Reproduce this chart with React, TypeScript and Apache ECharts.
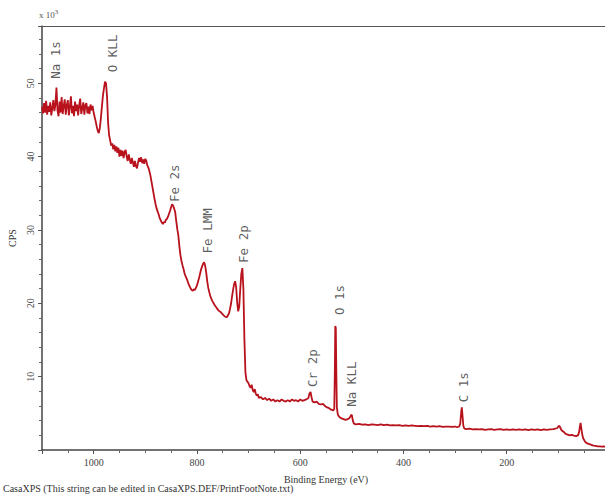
import React, { useEffect, useRef } from "react";
import * as echarts from "echarts";

// Binding energy (eV) and counts (x10^3 CPS)
const energy: number[] = [
  1100, 1098, 1096, 1094, 1092, 1090, 1088, 1086, 1084, 1082, 1080, 1078, 1076, 1074, 1072, 1070,
  1068, 1066, 1064, 1062, 1060, 1058, 1056, 1054, 1052, 1050, 1048, 1046, 1044, 1042, 1040, 1038,
  1036, 1034, 1032, 1030, 1028, 1026, 1024, 1022, 1020, 1018, 1016, 1014, 1012, 1010, 1008, 1006,
  1004, 1002, 1000, 998, 996, 994, 992, 990, 988, 986, 984, 982, 980, 978, 976, 974, 972, 970,
  968, 966, 964, 962, 960, 958, 956, 954, 952, 950, 948, 946, 944, 942, 940, 938, 936, 934,
  932, 930, 928, 926, 924, 922, 920, 918, 916, 914, 912, 910, 908, 906, 904, 902, 900, 898,
  896, 894, 892, 890, 888, 886, 884, 882, 880, 878, 876, 874, 872, 870, 868, 866, 864, 862,
  860, 858, 856, 854, 852, 850, 848, 846, 844, 842, 840, 838, 836, 834, 832, 830, 828, 826,
  824, 822, 820, 818, 816, 814, 812, 810, 808, 806, 804, 802, 800, 798, 796, 794, 792, 790,
  788, 786, 784, 782, 780, 778, 776, 774, 772, 770, 766, 762, 758, 754, 750, 746, 742, 738,
  736, 734, 732, 730, 728, 726, 724, 722, 720, 718, 716, 714, 712, 710, 708, 706, 704, 702,
  700, 698, 696, 694, 692, 690, 688, 686, 684, 682, 680, 676, 672, 668, 664, 660, 656, 652,
  648, 644, 640, 636, 632, 628, 624, 620, 616, 612, 608, 604, 600, 596, 592, 588, 584, 582,
  580, 578, 576, 572, 568, 564, 560, 556, 552, 548, 544, 540, 536, 534, 533, 532, 531, 530,
  529, 527, 524, 520, 516, 512, 508, 504, 502, 500, 498, 496, 492, 486, 480, 474, 468, 462,
  456, 450, 444, 438, 432, 426, 420, 414, 408, 402, 396, 390, 384, 378, 372, 366, 360, 354,
  348, 342, 336, 330, 324, 318, 312, 306, 300, 296, 292, 290, 288, 287, 286, 284, 282, 278,
  272, 266, 260, 254, 248, 242, 236, 230, 224, 218, 212, 206, 200, 194, 188, 182, 176, 170,
  164, 158, 152, 146, 140, 134, 128, 122, 116, 110, 106, 102, 100, 98, 96, 94, 90, 86,
  82, 78, 74, 70, 66, 62, 60, 58, 57, 56, 54, 52, 48, 44, 40, 36, 32, 28,
  24, 20, 16, 12, 8, 4,
];

const cps: number[] = [
  46.8, 45.9, 47.3, 46.0, 47.6, 45.7, 46.9, 46.1, 47.4, 45.6, 46.6, 47.7, 46.2, 47.1, 49.4, 46.3,
  45.5, 47.5, 46.0, 48.1, 45.8, 46.9, 47.8, 45.7, 47.0, 47.7, 45.6, 46.8, 48.2, 45.9, 46.9, 45.5,
  47.5, 46.2, 47.1, 45.6, 47.0, 47.9, 45.8, 46.6, 47.4, 45.7, 47.0, 47.3, 45.9, 46.8, 45.8, 47.1,
  46.3, 46.9, 46.0, 45.4, 44.8, 44.1, 43.5, 43.2, 43.9, 45.2, 46.8, 48.3, 49.3, 50.2, 50.0, 48.1, 44.6, 42.9,
  42.2, 41.5, 41.8, 41.0, 41.6, 40.7, 41.4, 40.5, 41.2, 40.0, 40.9, 40.1, 40.8, 39.8, 40.6, 40.9, 40.0, 39.4,
  40.3, 39.6, 39.0, 39.8, 39.2, 38.6, 39.4, 38.7, 38.4, 39.2, 39.8, 39.3, 39.9, 39.1, 39.6, 39.0, 39.7, 39.4,
  38.8, 38.5, 38.0, 37.4, 36.6, 35.8, 35.0, 34.2, 33.5, 32.9, 32.5, 32.1, 31.6, 31.3, 31.0, 30.8, 31.1, 31.0,
  31.4, 31.5, 31.8, 32.2, 32.6, 33.1, 33.5, 33.3, 32.9, 32.4, 31.2, 30.1, 29.3, 27.8, 26.6, 25.8, 25.2, 24.7,
  24.1, 23.7, 23.4, 23.0, 22.6, 22.3, 22.0, 21.8, 21.7, 21.9, 21.8, 22.1, 22.4, 22.9, 23.4, 24.0, 24.6, 25.0,
  25.4, 25.6, 25.1, 24.2, 23.0, 22.1, 21.5, 21.0, 20.6, 20.3, 19.8, 19.4, 19.0, 18.8, 18.5, 18.2, 18.1, 18.6,
  19.2, 19.9, 20.9, 21.8, 22.6, 23.0, 22.2, 20.1, 18.9, 19.6, 22.0, 24.0, 24.8, 22.0, 15.0, 10.5, 9.5, 9.3,
  9.1, 8.7, 8.5, 8.9, 8.2, 7.9, 8.3, 7.7, 7.4, 7.6, 7.1, 7.2, 6.9, 7.1, 6.8, 7.0, 6.7, 6.9,
  6.6, 6.8, 6.6, 6.9, 6.7, 6.6, 6.8, 6.6, 6.9, 6.7, 6.8, 6.6, 6.9, 6.7, 6.8, 6.9, 7.1, 7.7,
  7.9, 7.2, 6.6, 6.5, 6.6, 6.3, 6.2, 6.3, 6.0, 5.8, 5.7, 5.5, 5.4, 5.6, 10.0, 16.9, 16.6, 10.5,
  5.8, 4.8, 4.5, 4.3, 4.2, 4.1, 4.2, 4.4, 4.7, 4.8, 4.0, 3.6, 3.5, 3.55, 3.45, 3.5, 3.4, 3.5,
  3.45, 3.4, 3.5, 3.4, 3.45, 3.35, 3.4, 3.35, 3.4, 3.3, 3.35, 3.3, 3.35, 3.3, 3.25, 3.3, 3.25, 3.3,
  3.2, 3.25, 3.2, 3.25, 3.15, 3.2, 3.2, 3.15, 3.2, 3.1, 3.2, 3.6, 5.3, 5.8, 5.0, 3.3, 2.9, 2.85,
  2.9, 2.8, 2.85, 2.8, 2.85, 2.75, 2.8, 2.85, 2.75, 2.8, 2.85, 2.75, 2.8, 2.75, 2.8, 2.75, 2.8, 2.75,
  2.8, 2.7, 2.8, 2.75, 2.8, 2.7, 2.8, 2.75, 2.8, 2.85, 2.9, 3.0, 3.2, 3.3, 3.0, 2.7, 2.5, 2.2,
  2.1, 2.0, 2.05, 1.95, 1.9, 2.0, 2.4, 3.3, 3.7, 3.2, 2.2, 1.6, 1.1, 0.9, 0.8, 0.7, 0.6, 0.55,
  0.5, 0.5, 0.45, 0.5, 0.45, 0.4,
];

// Peak annotations: name, energy of the label, count level of the label's lower end
const peakNames: string[] = ["Na 1s", "O KLL", "Fe 2s", "Fe LMM", "Fe 2p", "O 1s", "Cr 2p", "Na KLL", "C 1s"];
const peakEnergy: number[] = [1074, 964, 844, 779, 710, 523, 576, 500, 284];
const peakLabelLevel: number[] = [50.6, 51.5, 33.8, 26.8, 25.5, 18.4, 8.6, 5.9, 6.5];

const xTicks: number[] = [200, 400, 600, 800, 1000];

const SERIF = "'Liberation Serif', 'DejaVu Serif', serif";

export default function App() {
  const ref = useRef<HTMLDivElement>(null);

  useEffect(() => {
    if (!ref.current) return;
    const chart = echarts.init(ref.current, null, { renderer: "svg" });
    const spectrum = energy.map((e, i) => [e, cps[i]]);
    const labels = peakNames.map((n, i) => ({ name: n, value: [peakEnergy[i], peakLabelLevel[i]] }));

    chart.setOption({
      animation: false,
      backgroundColor: "#ffffff",
      grid: {
        left: 42,
        top: 26,
        width: 568,
        bottom: 49,
        outerBoundsMode: "none",
        containLabel: false,
      },
      xAxis: [
        {
          type: "value",
          inverse: true,
          min: 0,
          max: 1100,
          interval: 200,
          name: "Binding Energy (eV)",
          nameLocation: "middle",
          nameGap: 24,
          nameTextStyle: { fontFamily: SERIF, fontSize: 10, color: "#333" },
          axisLine: { onZero: false, lineStyle: { color: "#444", width: 1.5 } },
          axisTick: { length: 4, lineStyle: { color: "#555" } },
          minorTick: { show: true, splitNumber: 4, length: 3, lineStyle: { color: "#666" } },
          axisLabel: {
            fontFamily: SERIF,
            fontSize: 10,
            color: "#444",
            margin: 7,
            showMinLabel: false,
            showMaxLabel: false,
            formatter: (v: number) => (xTicks.indexOf(v) >= 0 ? String(v) : ""),
          },
          splitLine: { show: false },
        },
        {
          type: "value",
          position: "top",
          inverse: true,
          min: 0,
          max: 1100,
          interval: 200,
          axisLine: { show: true, onZero: false, lineStyle: { color: "#555", width: 1.2 } },
          axisTick: { show: false },
          axisLabel: { show: false },
          splitLine: { show: false },
        },
      ],
      yAxis: {
        type: "value",
        position: "left",
        min: 0,
        max: 57.8,
        interval: 10,
        name: "CPS",
        nameLocation: "middle",
        nameRotate: 90,
        nameGap: 25,
        nameTextStyle: { fontFamily: SERIF, fontSize: 10, color: "#333" },
        axisLine: { show: true, onZero: false, lineStyle: { color: "#444", width: 1.5 } },
        axisTick: { show: true, length: 4, lineStyle: { color: "#555" } },
        minorTick: { show: true, splitNumber: 5, length: 3, lineStyle: { color: "#666" } },
        axisLabel: {
          rotate: 90,
          fontFamily: SERIF,
          fontSize: 10,
          color: "#444",
          margin: 7,
          showMinLabel: false,
          showMaxLabel: false,
        },
        splitLine: { show: false },
      },
      graphic: [
        {
          type: "text",
          left: 39,
          top: 8,
          style: {
            text: "{a|x 10}{b|3}",
            rich: {
              a: { fontFamily: SERIF, fontSize: 9, fill: "#555" },
              b: { fontFamily: SERIF, fontSize: 7, fill: "#555", verticalAlign: "top", padding: [0, 0, 6, 0] },
            },
          },
        },
        {
          type: "text",
          left: 3,
          top: 483,
          style: {
            text: "CasaXPS (This string can be edited in CasaXPS.DEF/PrintFootNote.txt)",
            fontFamily: SERIF,
            fontSize: 10,
            fill: "#333",
          },
        },
      ],
      series: [
        {
          type: "line",
          data: spectrum,
          showSymbol: false,
          symbol: "none",
          lineStyle: { color: "#b8121c", width: 1.8 },
          z: 3,
        },
        {
          type: "scatter",
          data: labels,
          symbolSize: 1,
          itemStyle: { color: "rgba(0,0,0,0)" },
          label: {
            show: true,
            formatter: "{b}",
            position: "inside",
            rotate: 90,
            align: "left",
            verticalAlign: "middle",
            fontFamily: "'DejaVu Sans Mono', monospace",
            fontSize: 12.5,
            color: "#333",
          },
          z: 4,
        },
      ],
    });
    return () => chart.dispose();
  }, []);

  return (
    <div
      ref={ref}
      style={{ position: "fixed", left: 0, top: 0, width: 605, height: 499, background: "#fff" }}
    />
  );
}
